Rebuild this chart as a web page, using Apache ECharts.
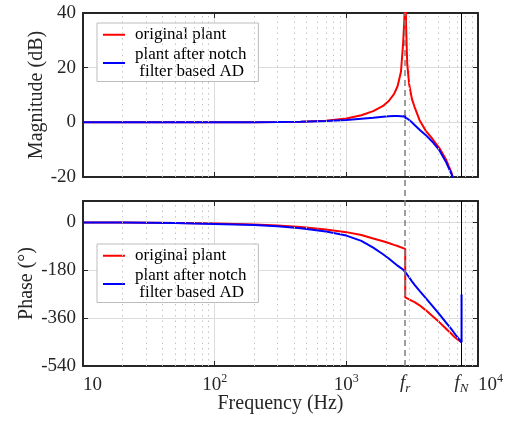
<!DOCTYPE html>
<html>
<head>
<meta charset="utf-8">
<script src="https://cdn.jsdelivr.net/npm/echarts@6/dist/echarts.min.js"></script>
<style>
html, body { margin: 0; padding: 0; background: #fff; }
#chart { width: 514px; height: 424px; }
</style>
</head>
<body>
<div id="chart"></div>
<script>
// frequency points in Hz (fr and fN repeated where the curves jump)
const freq = [10, 20, 50, 100, 200, 300, 450, 700, 1000, 1300, 1600, 1900, 2100, 2300, 2450, 2600, 2700, 2760, 2800, 2800,
  2840, 2900, 3000, 3150, 3300, 3600, 4000, 4500, 5100, 5700, 6300, 6600, 7000, 7500, 7500];
// magnitude (dB)
const magOriginal = [0, 0, 0, 0, 0.05, 0.1, 0.25, 0.6, 1.4, 2.6, 4.1, 6.0, 7.8, 10.3, 13.2, 18.5, 29, 38, 60, 60,
  36, 21.5, 14, 8.5, 5.6, 0.8, -3.0, -6.0, -9.5, -13.5, -18.5, -22, -27, -33, -33];
const magNotch = [0, 0, 0, 0, 0.05, 0.1, 0.2, 0.5, 0.85, 1.3, 1.65, 2.0, 2.2, 2.3, 2.35, 2.25, 2.1, 1.95, 2.6, 1.6,
  1.75, 1.4, 0.8, 0, -1.0, -2.7, -4.6, -7.1, -10.3, -14.4, -19, -22, -27, -33, -33];
// phase (deg)
const phaseOriginal = [-0.5, -0.9, -2.2, -4.2, -8, -12, -18, -27, -37, -48, -61, -71, -78, -85, -89, -94, -97, -99, -100, -282,
  -284, -286, -289, -295, -300, -312, -330, -352, -376, -399, -420, -430, -440, -451, -451];
const phaseNotch = [-0.6, -1.2, -3, -6, -10, -15, -22, -35, -50, -70, -95, -120, -136, -152, -163, -172, -178, -183, -187, -187,
  -191, -197, -207, -222, -235, -258, -284, -314, -346, -376, -402, -416, -432, -451, -271];

const fr = 2800;
const fN = 7500;
const minorFreqs = [20, 30, 40, 50, 60, 70, 80, 90, 200, 300, 400, 500, 600, 700, 800, 900,
  2000, 3000, 4000, 5000, 6000, 7000, 8000, 9000];
const magRange = [-20, 40];
const magStep = 20;
const phaseRange = [-540, 80];
const phaseStep = 180;
const names = ['original plant', 'plant after notch\n filter based AD'];

const serif = "'Liberation Serif', 'Times New Roman', serif";
const ink = '#262626';

function pairs(ys) {
  return freq.map((f, i) => [f, ys[i]]);
}

const supRich = {
  b: { fontFamily: serif, fontSize: 19, color: ink, lineHeight: 22, verticalAlign: 'bottom' },
  s: { fontFamily: serif, fontSize: 12, color: ink, lineHeight: 8, verticalAlign: 'top' }
};
const subRich = {
  b: { fontFamily: serif, fontSize: 19, fontStyle: 'italic', color: ink, lineHeight: 22, verticalAlign: 'top' },
  s: { fontFamily: serif, fontSize: 13, fontStyle: 'italic', color: ink, lineHeight: 14, verticalAlign: 'bottom' }
};

function xAxisFor(grid, pos, labels) {
  return {
    type: 'log', logBase: 10, min: 10, max: 10000, gridIndex: grid, position: pos,
    axisLine: { show: true, onZero: false, lineStyle: { color: ink, width: 2 } },
    axisTick: { show: true, inside: true, length: 5, lineStyle: { color: ink } },
    axisLabel: {
      show: labels, margin: 7, alignMinLabel: 'left', alignMaxLabel: 'left',
      formatter: v => {
        const p = Math.round(Math.log10(v));
        return p === 1 ? '{b|10}' : '{b|10}{s|' + p + '}';
      },
      rich: supRich
    },
    splitLine: { show: pos === 'bottom', lineStyle: { color: '#dcdcdc', width: 1 } }
  };
}

function yAxisFor(grid, pos, range, step, name, gap) {
  return {
    type: 'value', gridIndex: grid, position: pos, min: range[0], max: range[1], interval: step,
    name: pos === 'left' ? name : '', nameLocation: 'middle', nameGap: gap, nameMoveOverlap: false,
    nameTextStyle: { fontFamily: serif, fontSize: 20, color: ink },
    axisLine: { show: true, onZero: false, lineStyle: { color: ink, width: 2 } },
    axisTick: { show: true, inside: true, length: 5, lineStyle: { color: ink } },
    axisLabel: {
      show: pos === 'left', margin: 7, showMaxLabel: range[1] % step === 0,
      fontFamily: serif, fontSize: 19, color: ink
    },
    splitLine: { show: pos === 'left', lineStyle: { color: '#dcdcdc', width: 1 } }
  };
}

function helperSeries(x, y, withLabel) {
  return {
    type: 'line', xAxisIndex: x, yAxisIndex: y, data: [], z: 1, silent: true,
    markLine: {
      silent: true, symbol: ['none', 'none'], animation: false,
      data: minorFreqs.map(f => ({
        xAxis: f, label: { show: false },
        lineStyle: { color: '#c4c4c4', type: [1.5, 4], width: 1 }
      })).concat([{
        xAxis: fN,
        lineStyle: { color: '#000', type: 'solid', width: 1 },
        label: {
          show: withLabel, position: 'start', distance: 7,
          formatter: '{b|f}{s|N}', rich: subRich
        }
      }])
    }
  };
}

function curve(name, color, x, y, ys) {
  return {
    name: name, type: 'line', xAxisIndex: x, yAxisIndex: y, data: pairs(ys),
    showSymbol: false, symbol: 'none', z: 3, clip: true,
    lineStyle: { color: color, width: 2 }, itemStyle: { color: color }
  };
}

function legendAt(top) {
  return {
    orient: 'vertical', left: 97, top: top, data: names, selectedMode: false,
    icon: 'rect', itemWidth: 22, itemHeight: 2, itemGap: 2,
    padding: [3, 12, 1, 6], backgroundColor: '#fff', borderColor: '#bdbdbd', borderWidth: 1,
    textStyle: { fontFamily: serif, fontSize: 17, color: '#000', lineHeight: 17.5, padding: [0, 0, 0, 5] }
  };
}

const chart = echarts.init(document.getElementById('chart'), null, { renderer: 'canvas' });
chart.setOption({
  animation: false,
  backgroundColor: '#fff',
  grid: [
    { left: 83, top: 13, width: 395, height: 164, outerBoundsMode: 'none' },
    { left: 83, top: 201, width: 395, height: 165, outerBoundsMode: 'none' },
    { left: 83, top: 13, width: 395, height: 353, outerBoundsMode: 'none' }
  ],
  legend: [legendAt(23), legendAt(244)],
  xAxis: [
    xAxisFor(0, 'bottom', false),
    xAxisFor(0, 'top', false),
    Object.assign(xAxisFor(1, 'bottom', true), {
      name: 'Frequency (Hz)', nameLocation: 'middle', nameGap: 28, nameMoveOverlap: false,
      nameTextStyle: { fontFamily: serif, fontSize: 20, color: ink }
    }),
    xAxisFor(1, 'top', false),
    { type: 'log', logBase: 10, min: 10, max: 10000, gridIndex: 2, show: false }
  ],
  yAxis: [
    yAxisFor(0, 'left', magRange, magStep, 'Magnitude (dB)', 36),
    yAxisFor(0, 'right', magRange, magStep, '', 0),
    yAxisFor(1, 'left', phaseRange, phaseStep, 'Phase (°)', 46),
    yAxisFor(1, 'right', phaseRange, phaseStep, '', 0),
    { type: 'value', gridIndex: 2, min: 0, max: 1, show: false }
  ],
  series: [
    helperSeries(0, 0, false),
    helperSeries(2, 2, true),
    {
      type: 'line', xAxisIndex: 4, yAxisIndex: 4, data: [], z: 2, silent: true,
      markLine: {
        silent: true, symbol: ['none', 'none'], animation: false,
        data: [{
          xAxis: fr,
          lineStyle: { color: '#7f7f7f', type: [6, 4], width: 1.5 },
          label: { show: true, position: 'start', distance: 7, formatter: '{b|f}{s|r}', rich: subRich }
        }]
      }
    },
    curve(names[0], '#ff0000', 0, 0, magOriginal),
    curve(names[1], '#0000ff', 0, 0, magNotch),
    curve(names[0], '#ff0000', 2, 2, phaseOriginal),
    curve(names[1], '#0000ff', 2, 2, phaseNotch)
  ]
});
</script>
</body>
</html>
